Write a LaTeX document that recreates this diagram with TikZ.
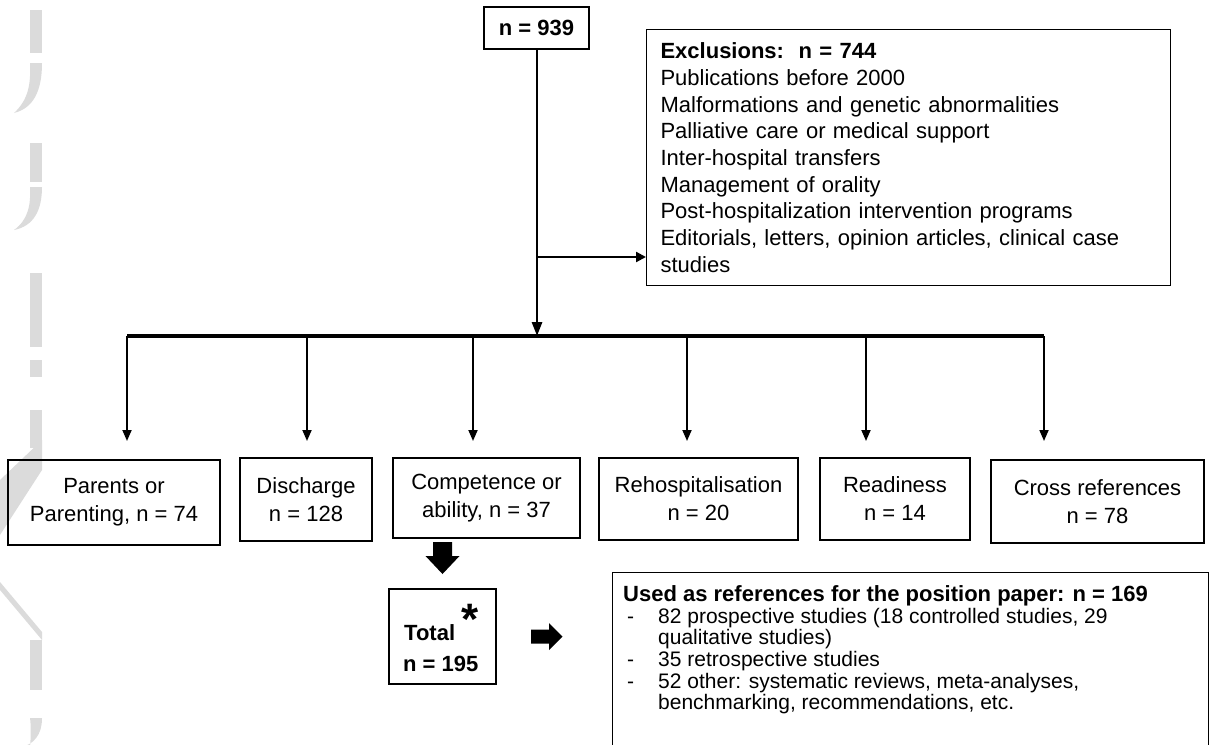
\documentclass[tikz,border=0pt]{standalone}
\usepackage{fontspec}
\setmainfont{Liberation Sans}
\usetikzlibrary{arrows.meta}
\begin{document}
\begin{tikzpicture}[x=1pt,y=-1pt,
  box/.style={draw=black, line width=1.1pt, inner sep=0pt},
  catbox/.style={box, align=center, font=\fontsize{22}{28}\selectfont},
  trunk/.style={line width=2.8pt},
  conn/.style={line width=1.8pt, -{Triangle[length=11pt,width=9pt]}},
  wm/.style={fill=black!14, draw=none},
  blockarrow/.style={fill=black, draw=none},
]
\useasboundingbox (0,0) rectangle (1212,744);

% watermark fragments
\fill[wm] (30,10) rectangle (42,53);
\fill[wm] (42,63) .. controls (42,90) and (34,108) .. (14,113) .. controls (28,100) and (31,85) .. (30,63) -- cycle;
\fill[wm] (30,143) rectangle (42,182);
\fill[wm] (42,187) .. controls (42,210) and (34,226) .. (14,230) .. controls (28,220) and (31,205) .. (30,187) -- cycle;
\fill[wm] (30,273) rectangle (42,347);
\fill[wm] (30,360) rectangle (42,377);
\fill[wm] (30,410) rectangle (42,448);
\fill[wm] (42,440) -- (42,470) -- (0,535) -- (0,480) -- cycle;
\fill[wm] (30,640) rectangle (42,690);
\fill[wm] (42,632) -- (42,640) -- (0,590) -- (0,582) -- cycle;
\fill[wm] (42,718) .. controls (42,735) and (34,744) .. (20,748) -- (30,748) .. controls (31,735) and (31,725) .. (30,718) -- cycle;

% top box
\node[box, minimum width=105pt, minimum height=42pt, font=\bfseries\fontsize{22}{26}\selectfont] (top) at (536.5,28) {n = 939};

% exclusions
\node[box, anchor=north west, minimum width=524pt, minimum height=256pt, text width=496pt, inner xsep=14pt, align=left, font=\fontsize{22}{26.7}\selectfont] (excl) at (646,29)
{\textbf{Exclusions:\ \ n = 744}\\
Publications before 2000\\
Malformations and genetic abnormalities\\
Palliative care or medical support\\
Inter-hospital transfers\\
Management of orality\\
Post-hospitalization intervention programs\\
Editorials, letters, opinion articles, clinical case\\
studies};

% categories
\node[catbox, minimum width=212pt, minimum height=85pt] (c1) at (114,502.5) {Parents or\\Parenting, n = 74};
\node[catbox, minimum width=132pt, minimum height=83pt] (c2) at (306,499.5) {Discharge\\n = 128};
\node[catbox, minimum width=187pt, minimum height=80pt] (c3) at (486.5,498) {Competence or\\ability, n = 37};
\node[catbox, minimum width=199pt, minimum height=82pt] (c4) at (698.5,499) {Rehospitalisation\\n = 20};
\node[catbox, minimum width=150pt, minimum height=82pt] (c5) at (895,499) {Readiness\\n = 14};
\node[catbox, minimum width=213pt, minimum height=83pt] (c6) at (1097.5,501.5) {Cross references\\n = 78};

% trunk and bar
\coordinate (side) at (537,257);
\coordinate (j) at (537,336);
\coordinate (barL) at (127,336);
\coordinate (barR) at (1044,336);
\draw[trunk] (top.south -| side) -- (side);
\draw[trunk, -{Triangle[length=14pt,width=10pt]}] (side) -- (j);
\draw[line width=2.2pt, -{Triangle[length=10pt,width=10pt]}] (side) -- (excl.west |- side);
\draw[line width=3.4pt] (barL) -- (barR);

\foreach \i/\x in {1/127,2/307,3/473,4/687,5/866,6/1044}{
  \coordinate (b\i) at (\x,336);
  \coordinate (t\i) at (\x,441);
  \draw[conn] (b\i) -- (t\i);
}

% block arrows
\fill[blockarrow] (433,542) -- (452,542) -- (452,556) -- (459.5,556) -- (442.5,574) -- (425.5,556) -- (433,556) -- cycle;
\fill[blockarrow] (531,629.5) -- (549,629.5) -- (549,623) -- (562.5,636.5) -- (549,650) -- (549,643.5) -- (531,643.5) -- cycle;

% total
\node[box, minimum width=107pt, minimum height=95pt] (total) at (442.5,636.5) {};
\node[anchor=base west, inner sep=0pt, font=\bfseries\fontsize{22}{22}\selectfont] (totlbl) at (404,640) {Total};
\node[anchor=north, inner sep=0pt, font=\bfseries\fontsize{44}{44}\selectfont] (ast) at (470.5,604) {*};
\node[anchor=base west, inner sep=0pt, font=\bfseries\fontsize{22}{22}\selectfont] (totn) at (403,671) {n = 195};

% used as references
\node[box, anchor=north west, minimum width=596pt, minimum height=200pt] (used) at (612,572) {};
\node[anchor=north west, inner sep=0pt, align=left, font=\fontsize{21}{21.5}\selectfont] (usedtxt) at (623,585.5)
{\begin{tabular}{@{}p{35pt}@{}l@{}}
\multicolumn{2}{@{}l@{}}{\fontsize{22}{21.5}\selectfont\bfseries Used as references for the position paper: n = 169}\\
\hspace*{4pt}- & 82 prospective studies (18 controlled studies, 29\\
 & qualitative studies)\\
\hspace*{4pt}- & 35 retrospective studies\\
\hspace*{4pt}- & 52 other: systematic reviews, meta-analyses,\\
 & benchmarking, recommendations, etc.
\end{tabular}};
\end{tikzpicture}
\end{document}
